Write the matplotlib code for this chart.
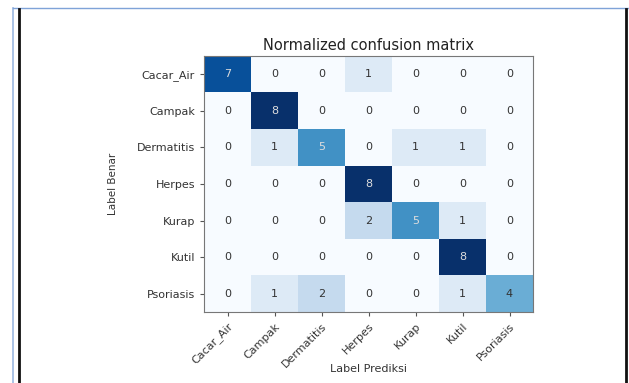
import numpy as np
import matplotlib.pyplot as plt
from matplotlib.lines import Line2D

# Class names and confusion counts (rows = true label, cols = predicted)
classes = ['Cacar_Air', 'Campak', 'Dermatitis', 'Herpes', 'Kurap', 'Kutil', 'Psoriasis']
cm = np.array([
    [7, 0, 0, 1, 0, 0, 0],
    [0, 8, 0, 0, 0, 0, 0],
    [0, 1, 5, 0, 1, 1, 0],
    [0, 0, 0, 8, 0, 0, 0],
    [0, 0, 0, 2, 5, 1, 0],
    [0, 0, 0, 0, 0, 8, 0],
    [0, 1, 2, 0, 0, 1, 4],
])

W, H = 629, 383
fig = plt.figure(figsize=(W / 100, H / 100), dpi=100)

ax = fig.add_axes([204 / W, 1 - 312 / H, (533 - 204) / W, (312 - 56) / H])
ax.imshow(cm, interpolation='nearest', cmap=plt.cm.Blues, aspect='auto', vmin=0, vmax=cm.max())
ax.set_title('Normalized confusion matrix', fontsize=10.5, color='#222222', pad=4)

ticks = np.arange(len(classes))
ax.set_xticks(ticks)
ax.set_xticklabels(classes, rotation=45, ha='right', rotation_mode='anchor', fontsize=8, color='#333333')
ax.set_yticks(ticks)
ax.set_yticklabels(classes, fontsize=8, color='#333333')
ax.tick_params(length=3, color='#555555')
for s in ax.spines.values():
    s.set_color('#777777')

thresh = cm.max() / 2.
for i in range(cm.shape[0]):
    for j in range(cm.shape[1]):
        ax.text(j, i, format(cm[i, j], 'd'), ha='center', va='center', fontsize=8,
                color='#dddddd' if cm[i, j] > thresh else '#333333')

ax.set_ylabel('Label Benar', fontsize=7.5, color='#333333')
ax.set_xlabel('Label Prediksi', fontsize=8, color='#333333')
ax.yaxis.set_label_coords(-0.262, 0.5)
ax.xaxis.set_label_coords(0.5, -0.205)

# page border around the screenshot
def fig_line(xs, ys, color, lw):
    fig.add_artist(Line2D([x / W for x in xs], [1 - y / H for y in ys],
                          transform=fig.transFigure, color=color, lw=lw))

fig_line([13, 13], [8, H], '#9bb7e0', 1.2)
fig_line([13, W], [8, 8], '#7fa3d8', 1.0)
fig_line([18.5, 18.5], [9, H], '#111111', 2.0)
fig_line([626, 626], [9, H], '#111111', 2.0)

fig.savefig('out.png', dpi=100)
